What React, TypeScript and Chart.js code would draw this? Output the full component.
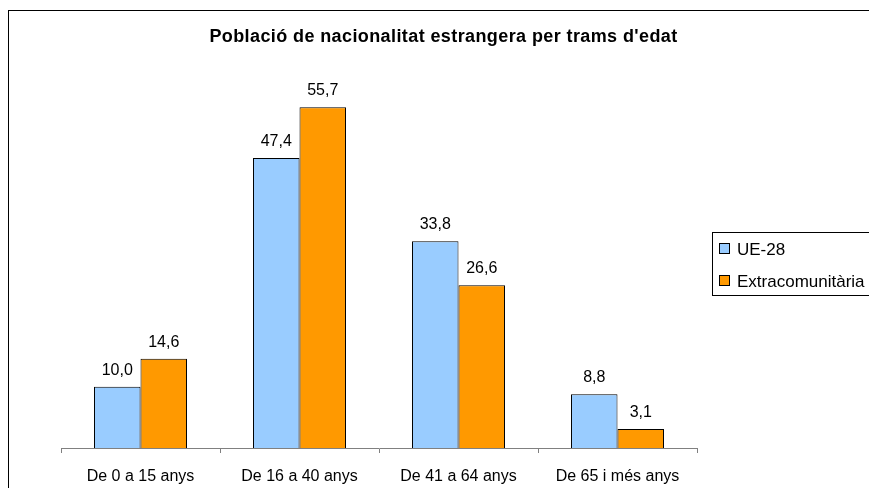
import React, { useEffect, useRef } from "react";
import { Chart, registerables } from "chart.js";

Chart.register(...registerables);

const categories = ["De 0 a 15 anys", "De 16 a 40 anys", "De 41 a 64 anys", "De 65 i més anys"];
const ueValues = [10.0, 47.4, 33.8, 8.8];
const extraValues = [14.6, 55.7, 26.6, 3.1];
const seriesLabels = ["UE-28", "Extracomunitària"];
const seriesColors = ["#99CCFF", "#FF9900"];
const titleText = "Població de nacionalitat estrangera per trams d'edat";

const FONT = "'Liberation Sans', Arial, sans-serif";

const decorPlugin = {
  id: "decor",
  afterDraw(chart: any) {
    const ctx = chart.ctx as CanvasRenderingContext2D;
    ctx.save();
    // outer frame
    ctx.strokeStyle = "#000000";
    ctx.lineWidth = 1;
    ctx.strokeRect(8.5, 10.5, 900, 500);
    // title
    ctx.fillStyle = "#000000";
    ctx.font = `bold 18px ${FONT}`;
    (ctx as any).letterSpacing = "0.4px";
    ctx.textAlign = "center";
    ctx.textBaseline = "alphabetic";
    ctx.fillText(titleText, 443.5, 42);
    (ctx as any).letterSpacing = "0px";
    // legend
    ctx.strokeStyle = "#000000";
    ctx.strokeRect(712.5, 232.5, 200, 63);
    const ds = chart.data.datasets;
    ctx.font = `17px ${FONT}`;
    ctx.textAlign = "left";
    const rows = [249, 281];
    ds.forEach((d: any, i: number) => {
      const cy = rows[i];
      ctx.fillStyle = d.backgroundColor;
      ctx.fillRect(719.5, cy - 5.5, 10, 10);
      ctx.strokeStyle = "#000000";
      ctx.strokeRect(719.5, cy - 5.5, 10, 10);
      ctx.fillStyle = "#000000";
      ctx.fillText(d.label, 737, cy + 6);
    });
    ctx.restore();
  },
  afterDatasetsDraw(chart: any) {
    const ctx = chart.ctx as CanvasRenderingContext2D;
    ctx.save();
    ctx.fillStyle = "#000000";
    ctx.font = `16px ${FONT}`;
    ctx.textAlign = "center";
    ctx.textBaseline = "alphabetic";
    chart.data.datasets.forEach((d: any, di: number) => {
      const meta = chart.getDatasetMeta(di);
      meta.data.forEach((bar: any, i: number) => {
        const v = d.data[i] as number;
        ctx.fillText(v.toFixed(1).replace(".", ","), bar.x, bar.y - 12);
      });
    });
    ctx.restore();
  },
};

export default function App() {
  const canvasRef = useRef<HTMLCanvasElement>(null);

  useEffect(() => {
    const canvas = canvasRef.current;
    if (!canvas) return;
    const chart = new Chart(canvas, {
      type: "bar",
      data: {
        labels: categories,
        datasets: [
          {
            label: seriesLabels[0],
            data: ueValues,
            backgroundColor: seriesColors[0],
            borderColor: "#000000",
            borderWidth: 1,
          },
          {
            label: seriesLabels[1],
            data: extraValues,
            backgroundColor: seriesColors[1],
            borderColor: "#000000",
            borderWidth: 1,
          },
        ],
      },
      options: {
        responsive: false,
        animation: false,
        devicePixelRatio: 1,
        layout: { padding: { left: 61, right: 172, top: 81, bottom: 0 } },
        datasets: { bar: { categoryPercentage: 0.585, barPercentage: 1.0 } },
        plugins: {
          legend: { display: false },
          title: { display: false },
          tooltip: { enabled: false },
        },
        scales: {
          x: {
            offset: true,
            grid: {
              offset: true,
              drawOnChartArea: false,
              drawTicks: true,
              tickLength: 5,
              color: "#808080",
            },
            border: { display: true, color: "#808080", width: 1 },
            ticks: {
              color: "#000000",
              font: { family: FONT, size: 16 },
              padding: 14,
              maxRotation: 0,
              autoSkip: false,
            },
            afterFit(scale: any) {
              scale.height = 40;
            },
          },
          y: {
            display: false,
            min: 0,
            max: 60,
          },
        },
      },
      plugins: [decorPlugin],
    });
    return () => chart.destroy();
  }, []);

  return (
    <div style={{ position: "fixed", left: 0, top: 0, width: 869, height: 488, background: "#ffffff" }}>
      <canvas ref={canvasRef} width={869} height={488} style={{ width: 869, height: 488, display: "block" }} />
    </div>
  );
}
